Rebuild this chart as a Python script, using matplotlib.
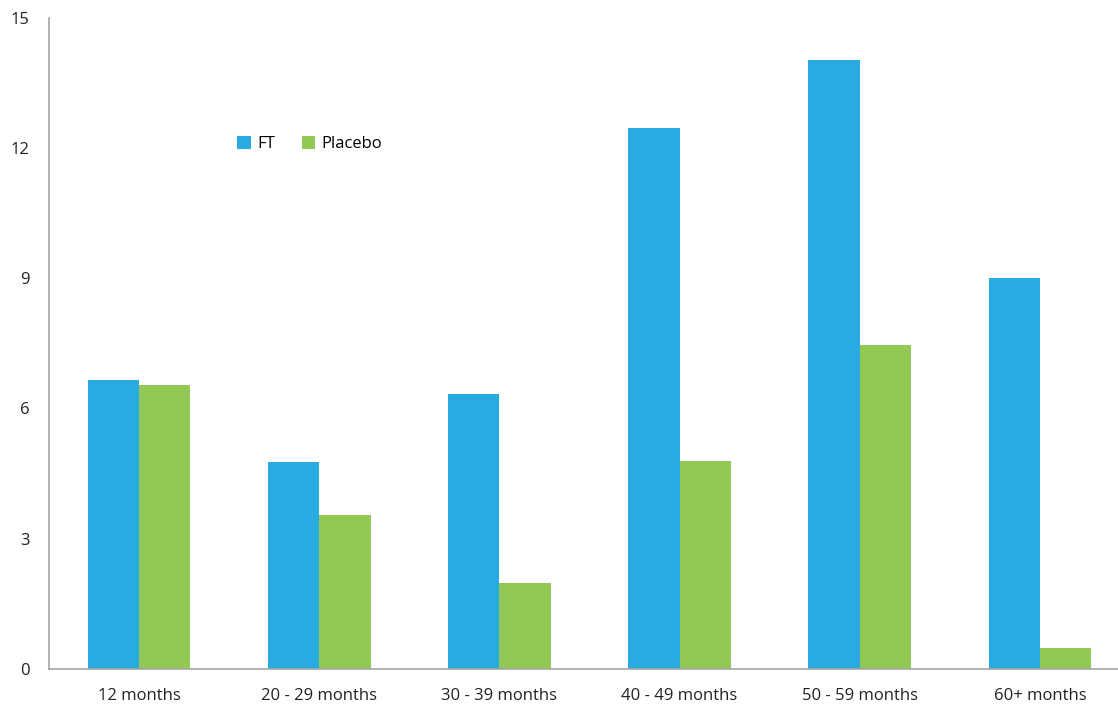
import numpy as np
import matplotlib.pyplot as plt

# data
categories = ['12 months', '20 - 29 months', '30 - 39 months',
              '40 - 49 months', '50 - 59 months', '60+ months']
ft = [6.65, 4.77, 6.33, 12.46, 14.02, 9.0]
placebo = [6.55, 3.54, 1.97, 4.79, 7.46, 0.48]
y_ticks = [0, 3, 6, 9, 12, 15]

plt.rcParams['font.family'] = ['Open Sans', 'DejaVu Sans']

W, H = 1118, 706
fig = plt.figure(figsize=(W / 100, H / 100), dpi=100)
ax = fig.add_axes([49 / W, (H - 669) / H, (1130 - 49) / W, (669 - 17.5) / H])

x = np.arange(len(categories))
w = 0.2845
ax.bar(x - w / 2, ft, w, color='#29ABE2', label='FT')
ax.bar(x + w / 2, placebo, w, color='#92C954', label='Placebo')

ax.set_xlim(-0.5, 5.5)
ax.set_ylim(0, 15)
ax.set_yticks(y_ticks)
ax.set_xticks(x)
ax.set_xticklabels(categories)
ax.tick_params(axis='both', length=0, labelsize=12, colors='#222222')
ax.tick_params(axis='y', pad=14)
ax.tick_params(axis='x', pad=14)

for s in ['top', 'right']:
    ax.spines[s].set_visible(False)
for s in ['left', 'bottom']:
    ax.spines[s].set_color('#A6A6A6')
    ax.spines[s].set_linewidth(1.2)

fig.legend(loc='center left', bbox_to_anchor=(229 / W, 1 - 144 / H),
           ncol=2, frameon=False, fontsize=12, handlelength=0.8,
           handleheight=0.8, handletextpad=0.4, columnspacing=1.6,
           borderpad=0)

fig.savefig('out.png', dpi=100)
